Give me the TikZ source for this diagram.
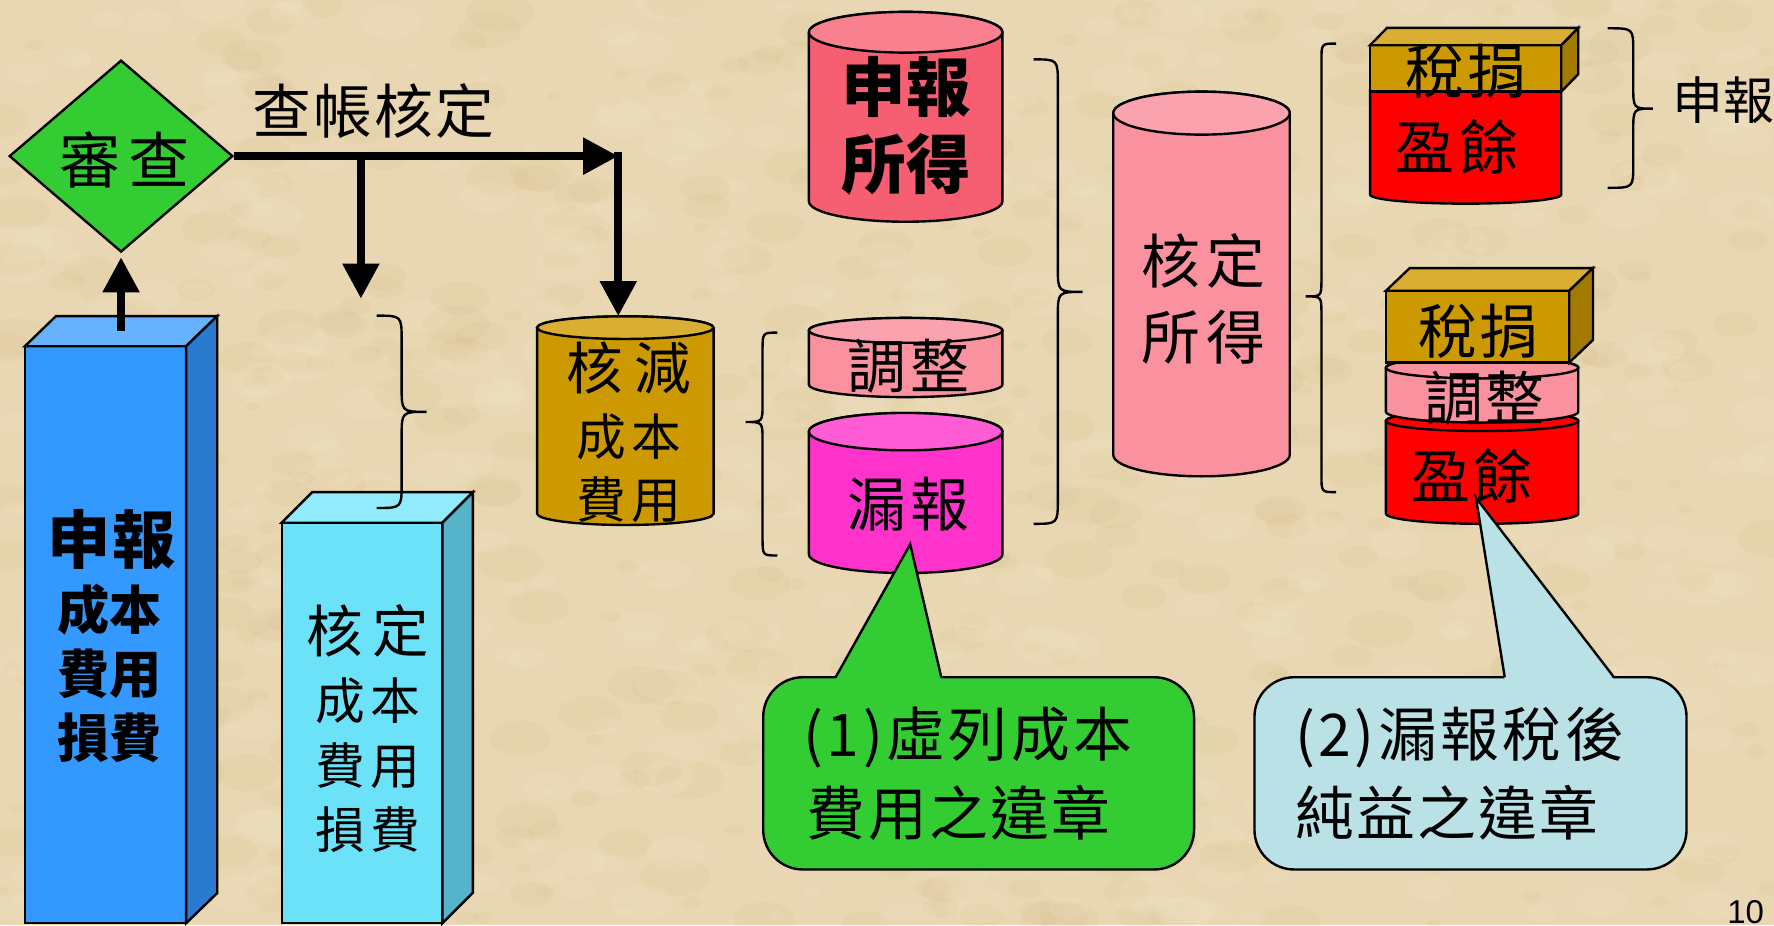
\documentclass[tikz,border=0pt]{standalone}
\usepackage{fontspec}
\usetikzlibrary{shapes.geometric,arrows.meta}
\newfontfamily\cjk{Noto Sans CJK TC}
\newfontfamily\latinsans{Liberation Sans}
\newcommand\cjkat[2]{\cjk\fontsize{#1}{#1}\selectfont\addfontfeatures{LetterSpace=#2}}
\newcommand\cjkbat[2]{\cjk\bfseries\fontsize{#1}{#1}\selectfont\addfontfeatures{LetterSpace=#2}}

\definecolor{bg}{HTML}{E8D7B2}
\definecolor{blotchdark}{HTML}{C9A46A}
\definecolor{blotchlight}{HTML}{F7EDD5}
\definecolor{dgreen}{HTML}{33CC33}
\definecolor{bluefront}{HTML}{3399FF}
\definecolor{bluetop}{HTML}{66B2FF}
\definecolor{blueside}{HTML}{2A7AD0}
\definecolor{cyanfront}{HTML}{6CE2F9}
\definecolor{cyantop}{HTML}{92EBFB}
\definecolor{cyanside}{HTML}{55B4C9}
\definecolor{gold}{HTML}{CC9900}
\definecolor{goldtop}{HTML}{D9AE33}
\definecolor{goldside}{HTML}{A37A00}
\definecolor{salmon}{HTML}{F65E72}
\definecolor{salmontop}{HTML}{F8808F}
\definecolor{pinkb}{HTML}{F9919E}
\definecolor{pinktop}{HTML}{FAA3AE}
\definecolor{magentab}{HTML}{FF33CC}
\definecolor{magentatop}{HTML}{FF5CD6}
\definecolor{redb}{HTML}{FF0000}
\definecolor{lblue}{HTML}{BAE1E6}

\tikzset{
  shapeline/.style={draw=black,line width=0.6pt},
  braceline/.style={draw=black,line width=0.6pt},
  arrowthick/.style={line width=2pt,-{Triangle[length=0.31cm,width=0.31cm]}},
  txt/.style={inner sep=0pt,text=black},
}

% cylinder: x left, x right, top cy, bottom cy, ry, body colour, top colour
\newcommand\cylshape[7]{%
  \pgfmathsetmacro\cylrx{(#2-#1)/2}%
  \pgfmathsetmacro\cylcx{(#1+#2)/2}%
  \filldraw[fill=#6,shapeline] (#1,#3) -- (#1,#4)
    arc[start angle=180,end angle=0,x radius=\cylrx,y radius=#5] -- (#2,#3)
    arc[start angle=0,end angle=-180,x radius=\cylrx,y radius=#5] -- cycle;
  \filldraw[fill=#7,shapeline] (\cylcx,#3) ellipse[x radius=\cylrx,y radius=#5];
}
% cylinder without visible top: x left, x right, top y, bottom cy, ry, colour
\newcommand\cylnotop[6]{%
  \pgfmathsetmacro\cylrx{(#2-#1)/2}%
  \filldraw[fill=#6,shapeline] (#1,#3) -- (#1,#4)
    arc[start angle=180,end angle=0,x radius=\cylrx,y radius=#5] -- (#2,#3) -- cycle;
}
% 3d box: x1,x2,ytop,ybot,dx,dy,front,top,side
\newcommand\boxthreed[9]{%
  \filldraw[fill=#7,shapeline] (#1,#3) rectangle (#2,#4);
  \filldraw[fill=#8,shapeline] (#1,#3) -- (#1+#5,#3-#6) -- (#2+#5,#3-#6) -- (#2,#3) -- cycle;
  \filldraw[fill=#9,shapeline] (#2,#3) -- (#2+#5,#3-#6) -- (#2+#5,#4-#6) -- (#2,#4) -- cycle;
}
% brace: x end, y top, y bottom, y middle, x of vertical, x of tip, r
\newcommand\bracepath[7]{%
  \draw[braceline] (#1,#2) .. controls (#5,#2) .. (#5,#2+#7) -- (#5,#4-#7)
    .. controls (#5,#4) .. (#6,#4) .. controls (#5,#4) .. (#5,#4+#7)
    -- (#5,#3-#7) .. controls (#5,#3) .. (#1,#3);
}

\begin{document}
\begin{tikzpicture}[x=0.01cm,y=-0.01cm]
\useasboundingbox (0,0) rectangle (1568,818);
\clip (0,0) rectangle (1568,818);
\fill[bg] (0,0) rectangle (1568,818);
\pgfmathsetseed{7}
\foreach \i in {1,...,500}{%
  \pgfmathsetmacro\bx{rnd*1568}%
  \pgfmathsetmacro\by{rnd*818}%
  \pgfmathsetmacro\bry{3+rnd*14}%
  \pgfmathsetmacro\brx{\bry*1.8}%
  \fill[blotchdark,opacity=0.07] (\bx,\by) ellipse[x radius=\brx,y radius=\bry];
}
\foreach \i in {1,...,500}{%
  \pgfmathsetmacro\bx{rnd*1568}%
  \pgfmathsetmacro\by{rnd*818}%
  \pgfmathsetmacro\bry{3+rnd*14}%
  \pgfmathsetmacro\brx{\bry*1.8}%
  \fill[blotchlight,opacity=0.12] (\bx,\by) ellipse[x radius=\brx,y radius=\bry];
}

% ---- left bars
\boxthreed{22}{164.5}{306}{816}{27.5}{26.6}{bluefront}{bluetop}{blueside}
\boxthreed{249}{391}{462}{816}{27}{27}{cyanfront}{cyantop}{cyanside}

\node[txt,font={\cjkbat{15.9pt}{3}}] (b1) at (99,477) {申報};
\node[txt,font={\cjkbat{13.1pt}{0}}] (b2) at (97,538.6) {成本};
\node[txt,font={\cjkbat{13.1pt}{0}}] (b3) at (97,596) {費用};
\node[txt,font={\cjkbat{13.1pt}{0}}] (b4) at (97,652) {損費};

\node[txt,font={\cjkat{14.2pt}{18}}] (c1) at (325,558) {核定};
\node[txt,font={\cjkat{12.5pt}{10}}] (c2) at (325,619) {成本};
\node[txt,font={\cjkat{12.5pt}{10}}] (c3) at (325,677) {費用};
\node[txt,font={\cjkat{12.5pt}{10}}] (c4) at (325,733) {損費};

\bracepath{333}{279}{449}{364}{355}{377}{22}

% ---- decision and arrows
\node[diamond,draw=black,line width=0.6pt,fill=dgreen,aspect=1.166,
      minimum width=1.976cm,minimum height=1.695cm,inner sep=0pt] (shencha) at (107,138) {};
\node[txt,font={\cjkat{15.4pt}{13}}] (shenchatext) at (110,141.5) {審查};
\node[txt,font={\cjkat{14.8pt}{4}}] (chazhang) at (330,98) {查帳核定};

\coordinate (bluetopc) at (107,293);
\coordinate (corner) at (546.5,138);
\coordinate (cornertop) at (546.5,134.5);
\coordinate (branch) at (319,138);
\coordinate (branchend) at (319,264);
\coordinate (goldtopc) at (546.5,279.5);
\draw[arrowthick] (bluetopc) -- ([yshift=-1pt]shencha.south);
\draw[arrowthick] (shencha.east) -- (corner);
\draw[arrowthick] (cornertop) -- (goldtopc);
\draw[arrowthick] (branch) -- (branchend);

% ---- gold cylinder
\cylshape{474.7}{630.7}{289.6}{454}{10}{gold}{goldtop}
\node[txt,font={\cjkat{14.2pt}{20}}] (g1) at (556,325) {核減};
\node[txt,font={\cjkat{12.5pt}{11}}] (g2) at (556,386) {成本};
\node[txt,font={\cjkat{12.5pt}{11}}] (g3) at (556,442) {費用};

% ---- braces
\bracepath{687}{294}{491}{373}{674}{659}{16}
\bracepath{913.5}{52.5}{463}{258}{935}{957}{22}
\bracepath{1181}{38.5}{435}{262}{1168}{1154}{15}
\bracepath{1421}{25}{166}{96}{1443.6}{1461}{20}

% ---- middle cylinders
\cylshape{715}{886}{28.5}{178}{18}{salmon}{salmontop}
\cylshape{715}{886}{292}{340}{11}{pinkb}{pinktop}
\cylshape{715}{886}{381.5}{490}{16.5}{magentab}{magentatop}
\cylshape{984}{1140}{100}{402}{19}{pinkb}{pinktop}

% ---- top stack
\cylnotop{1211}{1380}{80}{172}{8}{redb}
\boxthreed{1211}{1380}{40}{81}{15}{15.4}{gold}{goldtop}{goldside}

% ---- bottom stack
\cylshape{1225}{1395}{372}{454}{9}{redb}{redb}
\cylshape{1225}{1395}{325}{364}{9.5}{pinkb}{pinkb}
\boxthreed{1225}{1387}{257}{320.5}{21}{20}{gold}{goldtop}{goldside}

% ---- callouts
\filldraw[fill=dgreen,shapeline,rounded corners=0.35cm] (674.6,598.6) rectangle (1055.4,768.5);
\fill[dgreen] (738.6,600.8) -- (804.5,481) -- (832,600.8) -- cycle;
\draw[shapeline] (738.6,598.6) -- (804.5,481) -- (832,598.6);

\filldraw[fill=lblue,shapeline,rounded corners=0.35cm] (1108.8,598.6) rectangle (1490.7,768.5);
\fill[lblue] (1330,600.8) -- (1304.6,440) -- (1426.6,600.8) -- cycle;
\draw[shapeline] (1330,598.6) -- (1304.6,440) -- (1426.6,598.6);

% ---- texts of cylinders and stacks
\node[txt,font={\cjkbat{16.2pt}{0}}] (s1) at (801,77) {申報};
\node[txt,font={\cjkbat{16.2pt}{0}}] (s2) at (801,145.6) {所得};
\node[txt,font={\cjkat{14.8pt}{8}}] (t1) at (803,324) {調整};
\node[txt,font={\cjkat{14.8pt}{8}}] (l1) at (803,446) {漏報};
\node[txt,font={\cjkat{14.8pt}{10}}] (h1) at (1064,230.5) {核定};
\node[txt,font={\cjkat{14.8pt}{10}}] (h2) at (1064,298) {所得};

\node[txt,font={\cjkat{14.8pt}{6}}] (u1) at (1296,63) {稅捐};
\node[txt,font={\cjkat{14.8pt}{8}}] (u2) at (1288,130) {盈餘};
\node[txt,font={\cjkat{14.8pt}{4}}] (d1) at (1307,293) {稅捐};
\node[txt,font={\cjkat{14.8pt}{4}}] (d2) at (1312,352) {調整};
\node[txt,font={\cjkat{14.8pt}{4}}] (d3) at (1301,421) {盈餘};

\node[txt,anchor=west,font={\cjkat{12.8pt}{0}}] (shenbao) at (1477.6,89) {申報};

\node[txt,anchor=west,font={\cjkat{14.8pt}{6}}] (q1a) at (709.5,652) {(\kern0.06em1\kern0.06em)虛列成本};
\node[txt,anchor=west,font={\cjkat{14.8pt}{4}}] (q1b) at (712.5,718.6) {費用之違章};
\node[txt,anchor=west,font={\cjkat{14.8pt}{6}}] (q2a) at (1144,652) {(\kern0.06em2\kern0.06em)漏報稅後};
\node[txt,anchor=west,font={\cjkat{14.8pt}{4}}] (q2b) at (1144,718.6) {純益之違章};

\node[txt,anchor=north west,font={\latinsans\fontsize{8.3pt}{9pt}\selectfont}] (pagenum) at (1526,795) {10};
\end{tikzpicture}
\end{document}
